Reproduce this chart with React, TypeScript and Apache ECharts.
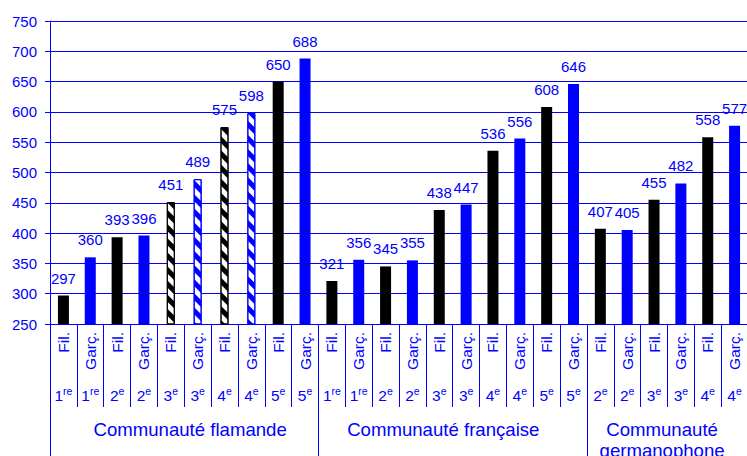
import React, { useEffect, useRef } from 'react';
import * as echarts from 'echarts';

// ---- data ----
const sexes = [
  'Fil.', 'Garç.', 'Fil.', 'Garç.', 'Fil.', 'Garç.', 'Fil.', 'Garç.', 'Fil.', 'Garç.',
  'Fil.', 'Garç.', 'Fil.', 'Garç.', 'Fil.', 'Garç.', 'Fil.', 'Garç.', 'Fil.', 'Garç.',
  'Fil.', 'Garç.', 'Fil.', 'Garç.', 'Fil.', 'Garç.',
];
const grades = [
  '1re', '1re', '2e', '2e', '3e', '3e', '4e', '4e', '5e', '5e',
  '1re', '1re', '2e', '2e', '3e', '3e', '4e', '4e', '5e', '5e',
  '2e', '2e', '3e', '3e', '4e', '4e',
];
const values = [
  297, 360, 393, 396, 451, 489, 575, 598, 650, 688,
  321, 356, 345, 355, 438, 447, 536, 556, 608, 646,
  407, 405, 455, 482, 558, 577,
];
const communities = ['Communauté flamande', 'Communauté française', 'Communauté germanophone'];
const communitySizes = [10, 10, 6];
const hatchedIdx = [4, 5, 6, 7];
const yMin = 250;
const yMax = 750;
const yStep = 50;

// ---- style ----
const BLUE = '#0000ff';
const BLACK = '#000000';
const FONT = '"Liberation Sans", Arial, sans-serif';
const labelShift = [0.22, -0.35, -0.2];

export default function App() {
  const ref = useRef<HTMLDivElement>(null);

  useEffect(() => {
    if (!ref.current) return;
    const chart = echarts.init(ref.current, undefined, { renderer: 'svg' });
    const keys = values.map((_, i) => String(i));
    const colorOf = (i: number) => (sexes[i] === 'Fil.' ? BLACK : BLUE);

    const boundaries: number[] = [];
    const centers: number[] = [];
    let acc = 0;
    communitySizes.forEach((s, gi) => {
      boundaries.push(acc);
      centers.push(acc + s / 2 + labelShift[gi]);
      acc += s;
    });

    const valueLabel = {
      show: true,
      position: 'top',
      distance: 10,
      color: BLUE,
      fontSize: 15,
      fontFamily: FONT,
    };

    const solidData = values.map((v, i) =>
      hatchedIdx.includes(i) ? '-' : { value: v, itemStyle: { color: colorOf(i) } }
    );
    const hatchData = values.map((v, i) =>
      hatchedIdx.includes(i)
        ? {
            value: v,
            itemStyle: {
              color: '#ffffff',
              borderColor: colorOf(i),
              borderWidth: 1,
              decal: {
                symbol: 'rect',
                symbolSize: 1,
                color: colorOf(i),
                dashArrayX: [1, 0],
                dashArrayY: [5, 5],
                rotation: Math.PI / 4,
              },
            },
          }
        : '-'
    );

    chart.setOption({
      animation: false,
      grid: {
        left: 50,
        top: 21,
        width: 698,
        height: 303,
        containLabel: false,
        outerBoundsMode: 'none',
      },
      xAxis: [
        {
          type: 'category',
          data: keys,
          position: 'bottom',
          axisLine: { show: true, onZero: false, lineStyle: { color: BLUE, width: 1 } },
          axisTick: { show: true, interval: 0, length: 83, lineStyle: { color: BLUE, width: 1 } },
          axisLabel: {
            interval: 0,
            rotate: 90,
            margin: 8,
            color: BLUE,
            fontSize: 15.5,
            fontFamily: FONT,
            formatter: (_v: string, i: number) => sexes[i],
          },
          splitLine: { show: false },
        },
        {
          type: 'category',
          data: keys,
          position: 'bottom',
          axisLine: { show: false, onZero: false },
          axisTick: { show: false },
          axisLabel: {
            interval: 0,
            margin: 61,
            color: BLUE,
            fontFamily: FONT,
            formatter: (_v: string, i: number) => {
              const g = grades[i];
              const m = g.match(/^(\d+)(.*)$/);
              return m ? `{n|${m[1]}}{s|${m[2]}}` : g;
            },
            rich: {
              n: { fontSize: 15.5, lineHeight: 18, color: BLUE, fontFamily: FONT, verticalAlign: 'bottom' },
              s: { fontSize: 10.5, lineHeight: 12, color: BLUE, fontFamily: FONT, verticalAlign: 'top' },
            },
          },
          splitLine: { show: false },
        },
        {
          type: 'value',
          min: 0,
          max: values.length,
          position: 'bottom',
          axisLine: { show: false, onZero: false },
          splitLine: { show: false },
          axisTick: {
            show: true,
            customValues: boundaries,
            length: 140,
            lineStyle: { color: BLUE, width: 1 },
          },
          axisLabel: {
            customValues: centers,
            margin: 95,
            color: BLUE,
            fontSize: 18.6,
            lineHeight: 21,
            fontFamily: FONT,
            formatter: (v: number) => {
              const gi = centers.findIndex((c) => Math.abs(c - v) < 1e-6);
              return gi >= 0 ? communities[gi].replace(' germanophone', '\ngermanophone') : '';
            },
          },
        },
        {
          type: 'category',
          data: keys,
          show: false,
        },
      ],
      yAxis: {
        type: 'value',
        min: yMin,
        max: yMax,
        interval: yStep,
        axisLine: { show: true, onZero: false, lineStyle: { color: BLUE, width: 1 } },
        axisTick: { show: true, length: 5, lineStyle: { color: BLUE, width: 1 } },
        axisLabel: { margin: 13, color: BLUE, fontSize: 15, fontFamily: FONT },
        splitLine: { show: true, lineStyle: { color: BLUE, width: 1 } },
      },
      series: [
        {
          type: 'bar',
          xAxisIndex: 0,
          data: solidData,
          barWidth: 11,
          label: valueLabel,
        },
        {
          type: 'bar',
          xAxisIndex: 3,
          data: hatchData,
          barWidth: 8,
          label: valueLabel,
        },
      ],
    });
    return () => chart.dispose();
  }, []);

  return (
    <div
      ref={ref}
      style={{ position: 'fixed', left: 0, top: 0, width: 747, height: 456, background: '#fff' }}
    />
  );
}
